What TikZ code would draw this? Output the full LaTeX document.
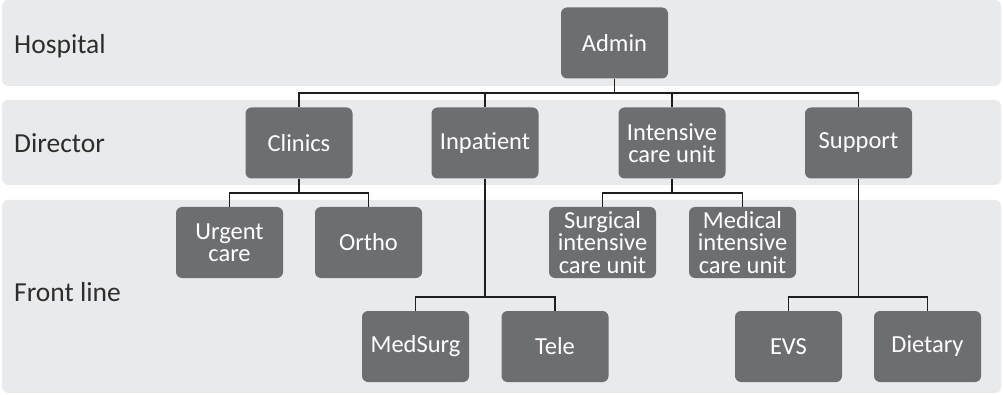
\documentclass[tikz,border=0pt]{standalone}
\usepackage{fontspec}
\setmainfont{Carlito}
\definecolor{bandgray}{RGB}{233,234,236}
\definecolor{boxgray}{RGB}{109,110,113}
\definecolor{labelgray}{RGB}{45,45,45}
\definecolor{linecol}{RGB}{30,30,30}
\begin{document}
\begin{tikzpicture}[x=1pt,y=-1pt,
  bandrect/.style={fill=bandgray, rounded corners=6pt},
  unit/.style={fill=boxgray, rounded corners=6pt, minimum width=107pt, minimum height=71pt,
    text=white, align=center, inner sep=0pt, font=\fontsize{24.5}{22.5}\selectfont},
  lvl/.style={anchor=base west, inner sep=0pt, text=labelgray, font=\fontsize{27.5}{30}\selectfont},
  conn/.style={draw=linecol, line width=1.4pt}]
\useasboundingbox (0,0) rectangle (1003,395);
% bands
\fill[bandrect] (2,0) rectangle (1001,86);
\fill[bandrect] (2,100) rectangle (1001,185);
\fill[bandrect] (2,200) rectangle (1001,393);
% level labels
\node[lvl] (lhosp) at (14,54) {Hospital};
\node[lvl] (ldir) at (14,153) {Director};
\node[lvl] (lfront) at (14,301) {Front line};
% units
\node[unit] (admin) at (614.5,43) {Admin};
\node[unit] (clinics) at (299,143) {Clinics};
\node[unit] (inpatient) at (485,143) {Inpatient};
\node[unit] (icu) at (672,143) {Intensive\\care unit};
\node[unit] (support) at (858.5,143) {Support};
\node[unit] (urgent) at (229.5,242.5) {Urgent\\care};
\node[unit] (ortho) at (368.5,242.5) {Ortho};
\node[unit] (sicu) at (602.5,242.5) {Surgical\\intensive\\care unit};
\node[unit] (micu) at (742.5,242.5) {Medical\\intensive\\care unit};
\node[unit] (medsurg) at (415.5,346.5) {MedSurg};
\node[unit] (tele) at (555,346.5) {Tele};
\node[unit] (evs) at (788.5,346.5) {EVS};
\node[unit] (dietary) at (927.5,346.5) {Dietary};
% junctions
\coordinate (jadmin) at (614.5,93);
\coordinate (jclin) at (299,193);
\coordinate (jicu) at (672,193);
\coordinate (jinp) at (485,297);
\coordinate (jsup) at (858.5,297);
% connectors
\foreach \c in {clinics,inpatient,icu,support}
  \draw[conn] (admin.south) -- (jadmin) -| (\c.north);
\foreach \c in {urgent,ortho}
  \draw[conn] (clinics.south) -- (jclin) -| (\c.north);
\foreach \c in {sicu,micu}
  \draw[conn] (icu.south) -- (jicu) -| (\c.north);
\foreach \c in {medsurg,tele}
  \draw[conn] (inpatient.south) -- (jinp) -| (\c.north);
\foreach \c in {evs,dietary}
  \draw[conn] (support.south) -- (jsup) -| (\c.north);
\end{tikzpicture}
\end{document}
